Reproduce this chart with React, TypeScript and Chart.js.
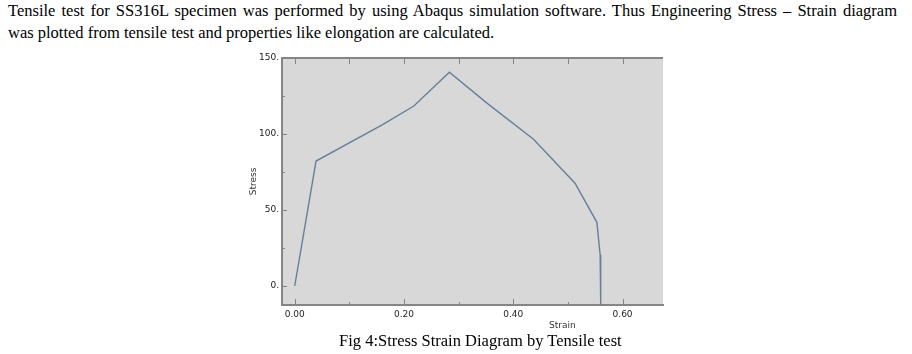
import React, { useEffect, useRef } from "react";
import { Chart, registerables } from "chart.js";

Chart.register(...registerables);

// Data (Abaqus stress–strain curve)
const strain = [0, 0.039, 0.16, 0.218, 0.283, 0.353, 0.437, 0.513, 0.553, 0.559, 0.56];
const stress = [0, 82.2, 106, 118.4, 140.6, 120, 96.5, 67.6, 41.9, 20.4, -12.5];

const xMajorTicks = [0, 0.2, 0.4, 0.6];
const xMinorTicks = [0.1, 0.3, 0.5];
const yMajorTicks = [0, 50, 100, 150];
const yMinorTicks = [25, 75, 125];

const xTickLabels = ["0.00", "0.20", "0.40", "0.60"];
const yTickLabels = ["0.", "50.", "100.", "150."];

const paragraphLine1 =
  "Tensile test for SS316L specimen was performed by using Abaqus simulation software. Thus Engineering Stress – Strain diagram";
const paragraphLine2 =
  "was plotted from tensile test and properties like elongation are calculated.";
const caption = "Fig 4:Stress Strain Diagram by Tensile test";

const AXIS_COLOR = "#858585";
const PLOT_BG = "#d8d8d8";
const LINE_COLOR = "#66809c";

const framePlugin = {
  id: "frame",
  beforeDraw(chart: any) {
    const { ctx, chartArea: a } = chart;
    ctx.save();
    ctx.fillStyle = PLOT_BG;
    ctx.fillRect(a.left, a.top, a.right - a.left, a.bottom - a.top);
    ctx.restore();
  },
  afterDraw(chart: any) {
    const { ctx, chartArea: a, scales } = chart;
    const xs = scales.x;
    const ys = scales.y;
    ctx.save();
    ctx.strokeStyle = AXIS_COLOR;
    ctx.lineWidth = 2;
    ctx.beginPath();
    ctx.moveTo(a.left, a.top);
    ctx.lineTo(a.right, a.top);
    ctx.stroke();
    ctx.lineWidth = 1;
    const vt = (v: number, len: number, top: boolean) => {
      const px = Math.round(xs.getPixelForValue(v)) + 0.5;
      ctx.beginPath();
      if (top) {
        ctx.moveTo(px, a.top);
        ctx.lineTo(px, a.top + len);
      } else {
        ctx.moveTo(px, a.bottom);
        ctx.lineTo(px, a.bottom - len);
      }
      ctx.stroke();
    };
    xMajorTicks.forEach((v) => {
      vt(v, 6, false);
      vt(v, 6, true);
    });
    xMinorTicks.forEach((v) => {
      vt(v, 3, false);
      vt(v, 6, true);
    });
    const ht = (v: number, len: number) => {
      const py = Math.round(ys.getPixelForValue(v)) + 0.5;
      ctx.beginPath();
      ctx.moveTo(a.left, py);
      ctx.lineTo(a.left + len, py);
      ctx.stroke();
    };
    yMajorTicks.forEach((v) => ht(v, 5));
    yMinorTicks.forEach((v) => ht(v, 3));
    ctx.restore();
  },
};

function StressStrainChart() {
  const ref = useRef<HTMLCanvasElement | null>(null);
  useEffect(() => {
    if (!ref.current) return;
    const chart = new Chart(ref.current, {
      type: "line",
      data: {
        datasets: [
          {
            data: strain.map((x, i) => ({ x, y: stress[i] })),
            borderColor: LINE_COLOR,
            borderWidth: 1.4,
            pointRadius: 0,
            tension: 0,
            fill: false,
          },
        ],
      },
      options: {
        animation: false,
        responsive: false,
        maintainAspectRatio: false,
        layout: { padding: { top: 10, right: 17, left: 0, bottom: 0 } },
        plugins: { legend: { display: false }, tooltip: { enabled: false } },
        scales: {
          x: {
            type: "linear",
            min: -0.0233,
            max: 0.674,
            grid: { display: false, drawTicks: false },
            border: { display: true, color: AXIS_COLOR, width: 2 },
            afterBuildTicks: (s: any) => {
              s.ticks = xMajorTicks.map((v) => ({ value: v }));
            },
            afterFit: (s: any) => {
              s.height = 23;
            },
            ticks: {
              autoSkip: false,
              maxRotation: 0,
              padding: 4,
              color: "#222",
              font: { family: "DejaVu Sans", size: 9 },
              callback: (v: any) => {
                const i = xMajorTicks.indexOf(Number(v));
                return i >= 0 ? xTickLabels[i] : "";
              },
            },
          },
          y: {
            type: "linear",
            min: -12.5,
            max: 150,
            grid: { display: false, drawTicks: false },
            border: { display: true, color: AXIS_COLOR, width: 2 },
            afterBuildTicks: (s: any) => {
              s.ticks = yMajorTicks.map((v) => ({ value: v }));
            },
            afterFit: (s: any) => {
              s.width = 42;
            },
            title: {
              display: true,
              text: "Stress",
              color: "#333",
              font: { family: "DejaVu Sans", size: 9 },
              padding: { top: 8, bottom: 0 },
            },
            ticks: {
              autoSkip: false,
              padding: 3,
              color: "#222",
              font: { family: "DejaVu Sans", size: 9 },
              callback: (v: any) => {
                const i = yMajorTicks.indexOf(Number(v));
                return i >= 0 ? yTickLabels[i] : "";
              },
            },
          },
        },
      },
      plugins: [framePlugin],
    } as any);
    return () => chart.destroy();
  }, []);
  return (
    <canvas
      ref={ref}
      width={440}
      height={280}
      style={{ position: "absolute", left: 240, top: 48, width: 440, height: 280 }}
    />
  );
}

const serif = "'Liberation Serif', 'Times New Roman', serif";

export default function App() {
  return (
    <div
      style={{
        position: "absolute",
        left: 0,
        top: 0,
        width: 912,
        height: 354,
        background: "#fff",
        overflow: "hidden",
      }}
    >
      <div
        style={{
          position: "absolute",
          left: 8,
          top: 0,
          width: 889,
          fontFamily: serif,
          fontSize: 16.5,
          lineHeight: "22px",
          color: "#000",
        }}
      >
        <div style={{ textAlign: "justify", textAlignLast: "justify" } as any}>{paragraphLine1}</div>
        <div style={{ textAlign: "left", whiteSpace: "nowrap" }}>{paragraphLine2}</div>
      </div>
      <StressStrainChart />
      <span
        style={{
          position: "absolute",
          left: 549,
          top: 320,
          fontFamily: "DejaVu Sans",
          fontSize: 9,
          lineHeight: "11px",
          color: "#333",
          whiteSpace: "nowrap",
        }}
      >
        Strain
      </span>
      <div
        style={{
          position: "absolute",
          left: 339,
          top: 330,
          fontFamily: serif,
          fontSize: 16.5,
          lineHeight: "22px",
          color: "#000",
          whiteSpace: "nowrap",
        }}
      >
        {caption}
      </div>
    </div>
  );
}
